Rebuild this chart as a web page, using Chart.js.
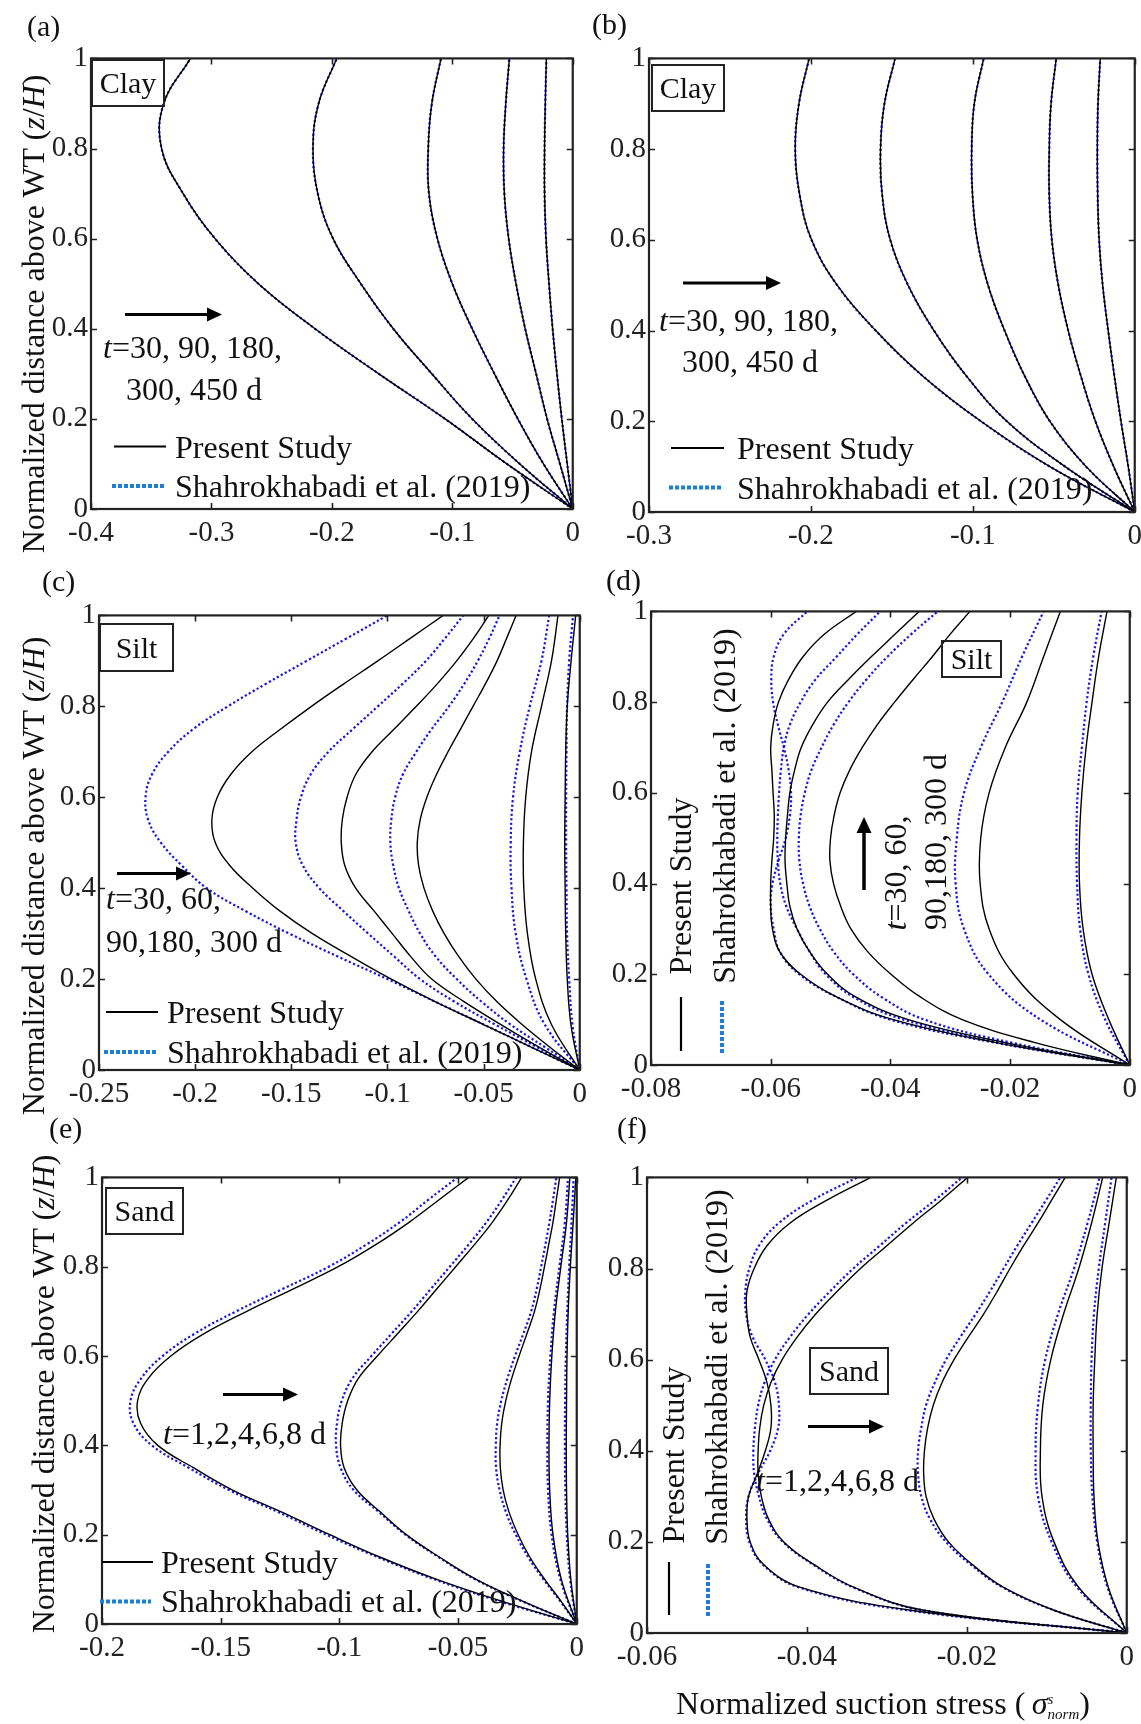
<!DOCTYPE html>
<html><head><meta charset="utf-8">
<script src="https://cdn.jsdelivr.net/npm/chart.js@4.4.1/dist/chart.umd.min.js"></script>
<style>
html,body{margin:0;padding:0;background:#fff;width:1141px;height:1724px;overflow:hidden;}
#wrap{position:relative;width:1141px;height:1724px;font-family:"Liberation Serif","Times New Roman",serif;color:#111;}
canvas{position:absolute;}
.lbl{position:absolute;line-height:1;white-space:nowrap;transform:translateY(-50%);}
.rot{position:absolute;line-height:1;white-space:nowrap;transform:translate(-50%,-50%) rotate(-90deg);}
.box{position:absolute;border:2px solid #222;box-sizing:border-box;display:flex;align-items:center;justify-content:center;font-size:30px;line-height:1;}
.pl{font-size:30px;}
.an{font-size:32px;}
.lg{font-size:32px;}
.yt{font-size:32px;}
svg{position:absolute;left:0;top:0;}
</style></head><body><div id="wrap">
<canvas id="ca"></canvas><canvas id="cb"></canvas><canvas id="cc"></canvas>
<canvas id="cd"></canvas><canvas id="ce"></canvas><canvas id="cf"></canvas>

<svg width="1141" height="1724">
  <line x1="125" y1="314.5" x2="210" y2="314.5" stroke="#000" stroke-width="3"/>
  <polygon points="222,314.5 207,307.5 207,321.5" fill="#000"/>
  <line x1="683" y1="283" x2="769" y2="283" stroke="#000" stroke-width="3"/>
  <polygon points="781,283 766,276 766,290" fill="#000"/>
  <line x1="117" y1="873.5" x2="179" y2="873.5" stroke="#000" stroke-width="3"/>
  <polygon points="191,873.5 176,866.5 176,880.5" fill="#000"/>
  <line x1="864" y1="890" x2="864" y2="829" stroke="#000" stroke-width="3.5"/>
  <polygon points="864,817 856.5,833 871.5,833" fill="#000"/>
  <line x1="223" y1="1394.5" x2="286" y2="1394.5" stroke="#000" stroke-width="3"/>
  <polygon points="298,1394.5 283,1387.5 283,1401.5" fill="#000"/>
  <line x1="808" y1="1426.5" x2="872" y2="1426.5" stroke="#000" stroke-width="3"/>
  <polygon points="884,1426.5 869,1419.5 869,1433.5" fill="#000"/>
  <line x1="114" y1="446.5" x2="166" y2="446.5" stroke="#000" stroke-width="2.2"/>
  <line x1="112" y1="486" x2="164" y2="486" stroke="#1c7ed6" stroke-width="4" stroke-dasharray="4 2"/>
  <line x1="671" y1="448" x2="724" y2="448" stroke="#000" stroke-width="2.2"/>
  <line x1="669" y1="487.5" x2="722" y2="487.5" stroke="#1c7ed6" stroke-width="4" stroke-dasharray="4 2"/>
  <line x1="106" y1="1012" x2="158" y2="1012" stroke="#000" stroke-width="2.2"/>
  <line x1="104" y1="1052" x2="156" y2="1052" stroke="#1c7ed6" stroke-width="4" stroke-dasharray="4 2"/>
  <line x1="681" y1="997" x2="681" y2="1051" stroke="#000" stroke-width="2.2"/>
  <line x1="722" y1="1001" x2="722" y2="1053" stroke="#1c7ed6" stroke-width="4" stroke-dasharray="4 2"/>
  <line x1="102" y1="1562" x2="153" y2="1562" stroke="#000" stroke-width="2.2"/>
  <line x1="100" y1="1601.5" x2="151" y2="1601.5" stroke="#1c7ed6" stroke-width="4" stroke-dasharray="4 2"/>
  <line x1="669" y1="1562" x2="669" y2="1615" stroke="#000" stroke-width="2.2"/>
  <line x1="708" y1="1564" x2="708" y2="1617" stroke="#1c7ed6" stroke-width="4" stroke-dasharray="4 2"/>
</svg>

<div class="lbl pl" style="left:27px;top:26px">(a)</div>
<div class="lbl pl" style="left:592px;top:24px">(b)</div>
<div class="lbl pl" style="left:42px;top:581px">(c)</div>
<div class="lbl pl" style="left:606px;top:580px">(d)</div>
<div class="lbl pl" style="left:49px;top:1128px">(e)</div>
<div class="lbl pl" style="left:617px;top:1128px">(f)</div>

<div class="box" style="left:91px;top:59px;width:74px;height:48px">Clay</div>
<div class="box" style="left:651px;top:64px;width:74px;height:48px">Clay</div>
<div class="box" style="left:99px;top:623px;width:75px;height:49px">Silt</div>
<div class="box" style="left:941px;top:640px;width:61px;height:38px">Silt</div>
<div class="box" style="left:105px;top:1187px;width:79px;height:48px">Sand</div>
<div class="box" style="left:809px;top:1347px;width:80px;height:48px">Sand</div>

<div class="lbl an" style="left:103px;top:347px"><i>t</i>=30, 90, 180,</div>
<div class="lbl an" style="left:126px;top:389px">300, 450 d</div>
<div class="lbl an" style="left:659px;top:320px"><i>t</i>=30, 90, 180,</div>
<div class="lbl an" style="left:682px;top:361px">300, 450 d</div>
<div class="lbl an" style="left:106px;top:898px"><i>t</i>=30, 60,</div>
<div class="lbl an" style="left:106px;top:941px">90,180, 300 d</div>
<div class="rot an" style="left:895px;top:873px"><i>t</i>=30, 60,</div>
<div class="rot an" style="left:935px;top:842px">90,180, 300 d</div>
<div class="lbl an" style="left:163px;top:1433px"><i>t</i>=1,2,4,6,8 d</div>
<div class="lbl an" style="left:756px;top:1480px"><i>t</i>=1,2,4,6,8 d</div>

<div class="lbl lg" style="left:175px;top:447px">Present Study</div>
<div class="lbl lg" style="left:175px;top:486px">Shahrokhabadi et al. (2019)</div>
<div class="lbl lg" style="left:737px;top:448px">Present Study</div>
<div class="lbl lg" style="left:737px;top:488px">Shahrokhabadi et al. (2019)</div>
<div class="lbl lg" style="left:167px;top:1012px">Present Study</div>
<div class="lbl lg" style="left:167px;top:1052px">Shahrokhabadi et al. (2019)</div>
<div class="rot lg" style="left:680px;top:886px">Present Study</div>
<div class="rot lg" style="left:724px;top:806px">Shahrokhabadi et al. (2019)</div>
<div class="lbl lg" style="left:161px;top:1562px">Present Study</div>
<div class="lbl lg" style="left:161px;top:1601px">Shahrokhabadi et al. (2019)</div>
<div class="rot lg" style="left:673px;top:1455px">Present Study</div>
<div class="rot lg" style="left:716px;top:1367px">Shahrokhabadi et al. (2019)</div>

<div class="rot yt" style="left:33px;top:314px">Normalized distance above WT (<i>z</i>/<i>H</i>)</div>
<div class="rot yt" style="left:33px;top:876px">Normalized distance above WT (<i>z</i>/<i>H</i>)</div>
<div class="rot yt" style="left:43px;top:1394px">Normalized distance above WT (<i>z</i>/<i>H</i>)</div>
<div class="lbl yt" style="left:883px;top:1704px;transform:translate(-50%,-50%)">Normalized suction stress (&thinsp;<i>σ</i><span style="display:inline-block;vertical-align:-0.3em;line-height:0.95;font-size:15px;font-style:italic;text-align:left"><span style="display:block">s</span><span style="display:block">norm</span></span>)</div>
</div>

<script>
// ---------------- DATA ----------------
const zFine = [0,0.05,0.1,0.15,0.2,0.25,0.3,0.35,0.4,0.45,0.5,0.55,0.6,0.65,0.7,0.75,0.8,0.85,0.9,0.95,1];
const zCoarse = [0,0.1,0.2,0.3,0.4,0.5,0.6,0.7,0.8,0.9,1];

// (a) Clay, t = 30, 90, 180, 300, 450 d (reference solution coincides)
const aPS30  = [0,-0.0547,-0.106,-0.161,-0.214,-0.261,-0.297,-0.3235,-0.3414,-0.3396,-0.3174];
const aPS90  = [0,-0.044,-0.0835,-0.117,-0.149,-0.176,-0.199,-0.2117,-0.2157,-0.211,-0.196];
const aPS180 = [0,-0.0243,-0.0456,-0.065,-0.0835,-0.100,-0.1124,-0.1194,-0.120,-0.117,-0.1094];
const aPS300 = [0,-0.0106,-0.0213,-0.0304,-0.0395,-0.0471,-0.0532,-0.0568,-0.0574,-0.0556,-0.0526];
const aPS450 = [0,-0.0046,-0.0091,-0.0131,-0.0167,-0.0197,-0.0222,-0.0234,-0.0234,-0.0228,-0.0219];
const aSH30 = aPS30, aSH90 = aPS90, aSH180 = aPS180, aSH300 = aPS300, aSH450 = aPS450;

// (b) Clay
const bPS30  = [0,-0.0524,-0.095,-0.131,-0.160,-0.1838,-0.1996,-0.207,-0.2097,-0.2074,-0.2011];
const bPS90  = [0,-0.043,-0.079,-0.104,-0.124,-0.140,-0.151,-0.156,-0.157,-0.1546,-0.148];
const bPS180 = [0,-0.030,-0.0524,-0.068,-0.0804,-0.0906,-0.0973,-0.1002,-0.1007,-0.0991,-0.0933];
const bPS300 = [0,-0.013,-0.0243,-0.0333,-0.0411,-0.0472,-0.0512,-0.0528,-0.0528,-0.0517,-0.0485];
const bPS450 = [0,-0.004,-0.0085,-0.0126,-0.0164,-0.0198,-0.022,-0.0229,-0.0231,-0.0227,-0.0213];
const bSH30 = bPS30, bSH90 = bPS90, bSH180 = bPS180, bSH300 = bPS300, bSH450 = bPS450;

// (c) Silt, t = 30, 60, 90 (fine z), 180, 300 (coarse z)
const cPS30 = [0,-0.025,-0.050,-0.075,-0.098,-0.119,-0.139,-0.156,-0.170,-0.182,-0.1895,-0.1913,-0.1885,-0.1815,-0.1705,-0.1555,-0.1395,-0.1225,-0.105,-0.088,-0.071];
const cSH30 = [0,-0.025,-0.050,-0.075,-0.100,-0.126,-0.151,-0.174,-0.194,-0.207,-0.2178,-0.2244,-0.2258,-0.2225,-0.214,-0.201,-0.183,-0.163,-0.142,-0.121,-0.100];
const cPS60 = [0,-0.021,-0.041,-0.060,-0.077,-0.088,-0.0975,-0.107,-0.1165,-0.1222,-0.124,-0.1235,-0.121,-0.1165,-0.108,-0.0965,-0.085,-0.074,-0.064,-0.0552,-0.0473];
const cSH60 = [0,-0.022,-0.044,-0.065,-0.083,-0.0966,-0.110,-0.123,-0.1354,-0.144,-0.1477,-0.1473,-0.145,-0.140,-0.1307,-0.118,-0.105,-0.092,-0.080,-0.070,-0.0606];
const cPS90 = [0,-0.0155,-0.030,-0.043,-0.054,-0.063,-0.0705,-0.0765,-0.081,-0.0838,-0.0845,-0.083,-0.0795,-0.0745,-0.0685,-0.062,-0.0555,-0.049,-0.043,-0.038,-0.0331];
const cSH90 = [0,-0.018,-0.036,-0.051,-0.064,-0.075,-0.083,-0.089,-0.094,-0.097,-0.0985,-0.098,-0.096,-0.092,-0.085,-0.077,-0.068,-0.060,-0.053,-0.047,-0.0417];
const cPS180 = [0,-0.0147,-0.0229,-0.0272,-0.0291,-0.0293,-0.0281,-0.0251,-0.0199,-0.0147,-0.0113];
const cSH180 = [0,-0.0182,-0.0277,-0.0333,-0.0355,-0.0359,-0.0347,-0.0312,-0.026,-0.0199,-0.0159];
const cPS300 = [0,-0.0046,-0.0065,-0.0073,-0.0076,-0.0078,-0.0076,-0.0073,-0.0065,-0.0045,-0.0021];
const cSH300 = [0,-0.0038,-0.0055,-0.0066,-0.0069,-0.0071,-0.0071,-0.0069,-0.0066,-0.0055,-0.0035];

// (d) Silt
const dPS30 = [0,-0.0225,-0.0395,-0.049,-0.055,-0.0585,-0.0597,-0.0600,-0.0600,-0.0598,-0.0595,-0.0594,-0.0596,-0.0598,-0.0600,-0.0596,-0.0587,-0.057,-0.0546,-0.051,-0.0457];
const dSH30 = [0,-0.0228,-0.040,-0.049,-0.0552,-0.0585,-0.0595,-0.0600,-0.0597,-0.0587,-0.0575,-0.0568,-0.0566,-0.0570,-0.0578,-0.0588,-0.0596,-0.0599,-0.0595,-0.0578,-0.0539];
const dPS60 = [0,-0.021,-0.037,-0.0458,-0.0505,-0.0535,-0.0556,-0.0568,-0.0573,-0.0576,-0.0575,-0.0572,-0.0568,-0.0560,-0.0549,-0.053,-0.0505,-0.047,-0.0432,-0.0392,-0.0352];
const dSH60 = [0,-0.0215,-0.0378,-0.0462,-0.0508,-0.0535,-0.0556,-0.0574,-0.0584,-0.0588,-0.0589,-0.0588,-0.0586,-0.0583,-0.0578,-0.0568,-0.0550,-0.0525,-0.0490,-0.0455,-0.0417];
const dPS90 = [0,-0.016,-0.028,-0.035,-0.0399,-0.0438,-0.0466,-0.0483,-0.0495,-0.0501,-0.0500,-0.0494,-0.0484,-0.0468,-0.0447,-0.0422,-0.0393,-0.0362,-0.0330,-0.0300,-0.0267];
const dSH90 = [0,-0.020,-0.0343,-0.0415,-0.0462,-0.0495,-0.0518,-0.0535,-0.0546,-0.0552,-0.0553,-0.0550,-0.0543,-0.0532,-0.0515,-0.0495,-0.0470,-0.0440,-0.0405,-0.0365,-0.0321];
const dPS180 = [0,-0.0116,-0.0194,-0.0235,-0.0250,-0.0249,-0.0235,-0.0208,-0.0172,-0.0144,-0.0116];
const dSH180 = [0,-0.0149,-0.0236,-0.0277,-0.0291,-0.0289,-0.0277,-0.0249,-0.0213,-0.0180,-0.0144];
const dPS300 = [0,-0.0035,-0.0063,-0.0078,-0.0084,-0.0084,-0.0080,-0.0073,-0.0063,-0.0052,-0.0038];
const dSH300 = [0,-0.0041,-0.0069,-0.0083,-0.0088,-0.0089,-0.0087,-0.0080,-0.0072,-0.0061,-0.0047];

// (e) Sand, t = 1, 2, 4 (fine z), 6, 8 d (coarse z)
const ePS1 = [0,-0.031,-0.059,-0.083,-0.104,-0.124,-0.145,-0.1615,-0.1765,-0.1838,-0.1850,-0.1805,-0.171,-0.157,-0.139,-0.1196,-0.1005,-0.0845,-0.0705,-0.058,-0.0455];
const eSH1 = [0,-0.032,-0.060,-0.084,-0.1055,-0.1255,-0.1465,-0.1635,-0.1790,-0.1868,-0.1880,-0.1835,-0.1745,-0.161,-0.1435,-0.124,-0.1045,-0.0885,-0.0745,-0.0625,-0.0502];
const ePS2 = [0,-0.0224,-0.0424,-0.0579,-0.0718,-0.0826,-0.0926,-0.098,-0.0995,-0.0988,-0.0965,-0.092,-0.084,-0.0755,-0.067,-0.059,-0.051,-0.043,-0.0355,-0.029,-0.0232];
const eSH2 = [0,-0.0226,-0.0428,-0.0583,-0.0722,-0.0832,-0.094,-0.0995,-0.1014,-0.101,-0.099,-0.0945,-0.0865,-0.078,-0.0695,-0.0615,-0.0535,-0.0455,-0.038,-0.0315,-0.0255];
const ePS4 = [0,-0.0065,-0.0135,-0.0198,-0.0247,-0.0285,-0.0310,-0.0322,-0.0323,-0.0316,-0.0299,-0.0274,-0.0243,-0.0210,-0.0178,-0.0155,-0.0136,-0.0118,-0.0100,-0.0086,-0.0072];
const eSH4 = [0,-0.0068,-0.014,-0.0205,-0.0257,-0.0298,-0.0325,-0.034,-0.0341,-0.0335,-0.0318,-0.0292,-0.026,-0.0225,-0.0192,-0.0169,-0.015,-0.0132,-0.0115,-0.0100,-0.0086];
const ePS6 = [0,-0.0065,-0.0100,-0.0114,-0.0117,-0.0114,-0.0105,-0.0090,-0.0067,-0.0043,-0.0029];
const eSH6 = [0,-0.0069,-0.0106,-0.0121,-0.0124,-0.0121,-0.0111,-0.0096,-0.0073,-0.0050,-0.0037];
const ePS8 = [0,-0.0025,-0.0038,-0.0043,-0.0044,-0.0043,-0.0041,-0.0036,-0.0027,-0.0015,-0.0004];
const eSH8 = [0,-0.0028,-0.0042,-0.0048,-0.0050,-0.0049,-0.0046,-0.0040,-0.0032,-0.0022,-0.0013];

// (f) Sand
const fPS1 = [0,-0.027,-0.0408,-0.0454,-0.0471,-0.0475,-0.0473,-0.0462,-0.0452,-0.0445,-0.0445,-0.045,-0.046,-0.0471,-0.0475,-0.0475,-0.0466,-0.0450,-0.0421,-0.0375,-0.0320];
const fSH1 = [0,-0.0275,-0.041,-0.0455,-0.0472,-0.0476,-0.0473,-0.0461,-0.0446,-0.0436,-0.0435,-0.044,-0.0452,-0.0468,-0.0476,-0.0477,-0.0472,-0.046,-0.0435,-0.0393,-0.0337];
const fPS2 = [0,-0.0254,-0.0341,-0.0391,-0.0429,-0.0448,-0.0457,-0.0461,-0.0461,-0.0459,-0.0454,-0.0445,-0.0431,-0.0412,-0.0389,-0.0362,-0.0333,-0.0300,-0.0267,-0.0232,-0.0199];
const fSH2 = [0,-0.0255,-0.0342,-0.0392,-0.043,-0.045,-0.046,-0.0466,-0.0467,-0.0465,-0.0461,-0.0453,-0.044,-0.0421,-0.0398,-0.0371,-0.0342,-0.0309,-0.0276,-0.024,-0.0206];
const fPS4 = [0,-0.0091,-0.0154,-0.0193,-0.0223,-0.0241,-0.0251,-0.0254,-0.0253,-0.0249,-0.0242,-0.0231,-0.0216,-0.0198,-0.0179,-0.0162,-0.0146,-0.0129,-0.0111,-0.0094,-0.0077];
const fSH4 = [0,-0.0091,-0.0155,-0.0195,-0.0226,-0.0246,-0.0257,-0.0261,-0.0261,-0.0257,-0.0251,-0.0240,-0.0226,-0.0208,-0.0189,-0.0171,-0.0154,-0.0137,-0.0119,-0.0101,-0.0083];
const fPS6 = [0,-0.0060,-0.0091,-0.0106,-0.0108,-0.0105,-0.0095,-0.0079,-0.0060,-0.0044,-0.0030];
const fSH6 = [0,-0.0062,-0.0094,-0.0111,-0.0114,-0.0111,-0.0102,-0.0086,-0.0066,-0.0049,-0.0034];
const fPS8 = [0,-0.0023,-0.0036,-0.0041,-0.0042,-0.0042,-0.0040,-0.0037,-0.0031,-0.0022,-0.0013];
const fSH8 = [0,-0.0024,-0.0037,-0.0043,-0.0045,-0.0045,-0.0044,-0.0041,-0.0035,-0.0027,-0.0019];

// axis ranges / tick steps
const xMinA = -0.4,  xStepA = 0.1;
const xMinB = -0.3,  xStepB = 0.1;
const xMinC = -0.25, xStepC = 0.05;
const xMinD = -0.08, xStepD = 0.02;
const xMinE = -0.2,  xStepE = 0.05;
const xMinF = -0.06, xStepF = 0.02;

// ---------------- RENDERING ----------------
const FONT = '"Liberation Serif", "Times New Roman", serif';
const BLUE = '#1414ee';

const boxPlugin = {
  id: 'matlabBox',
  afterDatasetsDraw(chart) {
    const {ctx, chartArea: a, scales: {x, y}} = chart;
    ctx.save();
    ctx.strokeStyle = '#222';
    ctx.lineWidth = 1.6;
    const L = 6;
    ctx.beginPath();
    x.ticks.forEach((t, i) => {
      const px = Math.round(x.getPixelForTick(i)) + 0.5;
      ctx.moveTo(px, a.bottom); ctx.lineTo(px, a.bottom - L);
      ctx.moveTo(px, a.top); ctx.lineTo(px, a.top + L);
    });
    y.ticks.forEach((t, i) => {
      const py = Math.round(y.getPixelForTick(i)) + 0.5;
      ctx.moveTo(a.left, py); ctx.lineTo(a.left + L, py);
      ctx.moveTo(a.right, py); ctx.lineTo(a.right - L, py);
    });
    ctx.stroke();
    ctx.lineWidth = 2.2;
    ctx.strokeRect(a.left, a.top, a.right - a.left, a.bottom - a.top);
    ctx.restore();
  }
};

const fmt = v => String(+Number(v).toFixed(4));

function makeChart(id, rect, xmin, step, curves) {
  const [Lp, Tp, Rp, Bp] = rect;
  const YW = 80, XH = 48, PT = 20, PR = 14;
  const cv = document.getElementById(id);
  const w = Rp - Lp + YW + PR, h = Bp - Tp + PT + XH;
  cv.width = w; cv.height = h;
  cv.style.width = w + 'px'; cv.style.height = h + 'px';
  cv.style.left = (Lp - YW) + 'px'; cv.style.top = (Tp - PT) + 'px';
  const datasets = [];
  curves.forEach(c => {
    datasets.push({
      data: c.z.map((z, i) => ({x: c.sh[i], y: z})),
      borderColor: BLUE, borderWidth: 2.2, borderDash: [2.2, 2.4], borderCapStyle: 'butt',
      order: 2, pointRadius: 0, tension: 0.4, fill: false
    });
    datasets.push({
      data: c.z.map((z, i) => ({x: c.ps[i], y: z})),
      borderColor: '#000', borderWidth: 1.4,
      order: 1, pointRadius: 0, tension: 0.4, fill: false
    });
  });
  const tickFont = {family: FONT, size: 29};
  new Chart(cv, {
    type: 'line',
    data: {datasets},
    options: {
      responsive: false, animation: false, devicePixelRatio: 1,
      layout: {padding: {left: 0, top: PT, right: PR, bottom: 0}},
      plugins: {legend: {display: false}, tooltip: {enabled: false}},
      elements: {point: {radius: 0}},
      scales: {
        x: {
          type: 'linear', min: xmin, max: 0,
          afterFit(s) { s.height = XH; },
          grid: {display: false, drawTicks: false}, border: {display: false},
          ticks: {stepSize: step, padding: 7, font: tickFont, color: '#222', maxRotation: 0, autoSkip: false, callback: v => fmt(v)}
        },
        y: {
          type: 'linear', min: 0, max: 1,
          afterFit(s) { s.width = YW; },
          grid: {display: false, drawTicks: false}, border: {display: false},
          ticks: {stepSize: 0.2, padding: 3, font: tickFont, color: '#222', autoSkip: false, callback: v => fmt(v)}
        }
      }
    },
    plugins: [boxPlugin]
  });
}

makeChart('ca', [91, 58, 573, 509], xMinA, xStepA, [
  {z: zCoarse, ps: aPS30, sh: aSH30}, {z: zCoarse, ps: aPS90, sh: aSH90},
  {z: zCoarse, ps: aPS180, sh: aSH180}, {z: zCoarse, ps: aPS300, sh: aSH300},
  {z: zCoarse, ps: aPS450, sh: aSH450}]);
makeChart('cb', [649, 58, 1135, 512], xMinB, xStepB, [
  {z: zCoarse, ps: bPS30, sh: bSH30}, {z: zCoarse, ps: bPS90, sh: bSH90},
  {z: zCoarse, ps: bPS180, sh: bSH180}, {z: zCoarse, ps: bPS300, sh: bSH300},
  {z: zCoarse, ps: bPS450, sh: bSH450}]);
makeChart('cc', [99, 615, 580, 1070], xMinC, xStepC, [
  {z: zFine, ps: cPS30, sh: cSH30}, {z: zFine, ps: cPS60, sh: cSH60},
  {z: zFine, ps: cPS90, sh: cSH90}, {z: zCoarse, ps: cPS180, sh: cSH180},
  {z: zCoarse, ps: cPS300, sh: cSH300}]);
makeChart('cd', [651, 611, 1130, 1065], xMinD, xStepD, [
  {z: zFine, ps: dPS30, sh: dSH30}, {z: zFine, ps: dPS60, sh: dSH60},
  {z: zFine, ps: dPS90, sh: dSH90}, {z: zCoarse, ps: dPS180, sh: dSH180},
  {z: zCoarse, ps: dPS300, sh: dSH300}]);
makeChart('ce', [102, 1177, 577, 1624], xMinE, xStepE, [
  {z: zFine, ps: ePS1, sh: eSH1}, {z: zFine, ps: ePS2, sh: eSH2},
  {z: zFine, ps: ePS4, sh: eSH4}, {z: zCoarse, ps: ePS6, sh: eSH6},
  {z: zCoarse, ps: ePS8, sh: eSH8}]);
makeChart('cf', [647, 1177, 1127, 1633], xMinF, xStepF, [
  {z: zFine, ps: fPS1, sh: fSH1}, {z: zFine, ps: fPS2, sh: fSH2},
  {z: zFine, ps: fPS4, sh: fSH4}, {z: zCoarse, ps: fPS6, sh: fSH6},
  {z: zCoarse, ps: fPS8, sh: fSH8}]);
</script>
</body></html>
